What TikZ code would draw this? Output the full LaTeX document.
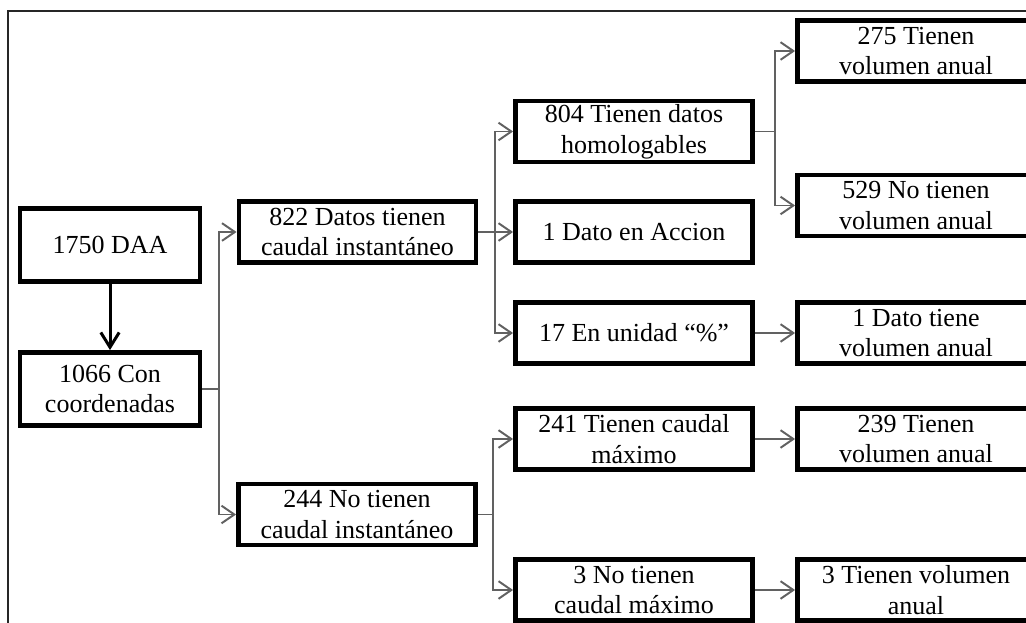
\documentclass[tikz,border=0pt]{standalone}
\usepackage{fontspec}
\setmainfont{Liberation Serif}
\usetikzlibrary{arrows.meta}
\definecolor{gris}{gray}{0.38}

\begin{document}
\begin{tikzpicture}[x=0.025cm, y=-0.025cm,
  caja/.style={draw, line width=0.115cm, inner sep=0cm, align=center,
    minimum width=5.93cm, minimum height=1.52cm,
    font=\fontsize{18.5pt}{21.8pt}\selectfont},
  cajaizq/.style={caja, minimum width=4.5cm, minimum height=1.83cm},
  conector/.style={draw=gris, line width=1.4pt},
  flecha/.style={conector, -{Straight Barb[length=0.32cm,width=0.44cm]}},
  flechanegra/.style={draw=black, line width=0.075cm,
    -{Straight Barb[length=0.37cm,width=0.46cm]}}]

\useasboundingbox (0,0) rectangle (1026,623);
\clip (0,0) rectangle (1026,623);
\draw[line width=0.05cm, black!85] (8,11) rectangle (1060,660);

\node[cajaizq] (A) at (110,245) {1750 DAA};
\node[cajaizq] (B) at (110,389) {1066 Con\\coordenadas};

\node[caja] (C) at (357.5,232) {822 Datos tienen\\caudal instantáneo};
\node[caja] (D) at (357,514.5) {244 No tienen\\caudal instantáneo};

\node[caja] (E1) at (634,131.5) {804 Tienen datos\\homologables};
\node[caja] (E2) at (634,232) {1 Dato en Accion};
\node[caja] (E3) at (634,333) {17 En unidad “\%”};
\node[caja] (E4) at (634,439) {241 Tienen caudal\\máximo};
\node[caja] (E5) at (634,590) {3 No tienen\\caudal máximo};

\node[caja] (F1) at (916,51) {275 Tienen\\volumen anual};
\node[caja] (F2) at (916,205.5) {529 No tienen\\volumen anual};
\node[caja] (F3) at (916,333) {1 Dato tiene\\volumen anual};
\node[caja] (F4) at (916,439) {239 Tienen\\volumen anual};
\node[caja] (F5) at (916,590) {3 Tienen volumen\\anual};

\path (B.east) ++(17,0) coordinate (jB);
\path (C.east) ++(17,0) coordinate (jC);
\path (D.east) ++(15.5,0) coordinate (jD);
\path (E1.east) ++(20,0) coordinate (jE);

\draw[flechanegra] (A) -- (B);

\draw[conector] (B.east) -- (jB);
\draw[flecha] (jB) |- (C.west);
\draw[flecha] (jB) |- (D.west);

\draw[conector] (C.east) -- (jC);
\draw[flecha] (jC) |- (E1.west);
\draw[flecha] (jC) |- (E2.west);
\draw[flecha] (jC) |- (E3.west);

\draw[conector] (D.east) -- (jD);
\draw[flecha] (jD) |- (E4.west);
\draw[flecha] (jD) |- (E5.west);

\draw[conector] (E1.east) -- (jE);
\draw[flecha] (jE) |- (F1.west);
\draw[flecha] (jE) |- (F2.west);

\draw[flecha] (E3) -- (F3);
\draw[flecha] (E4) -- (F4);
\draw[flecha] (E5) -- (F5);
\end{tikzpicture}
\end{document}
